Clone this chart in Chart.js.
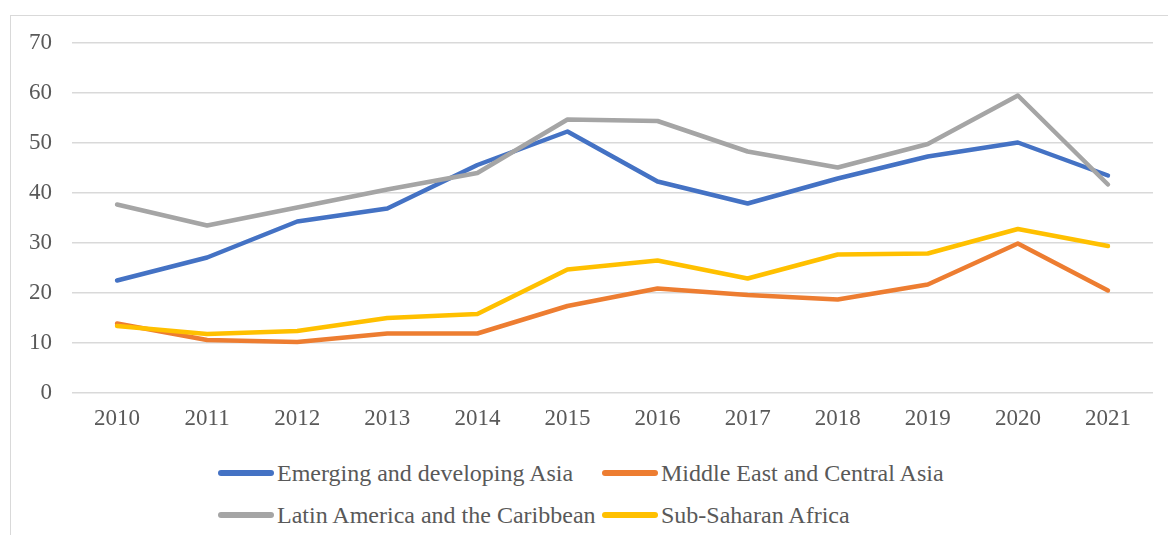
<!DOCTYPE html>
<html>
<head>
<meta charset="utf-8">
<script src="https://cdn.jsdelivr.net/npm/chart.js@4/dist/chart.umd.min.js"></script>
<style>
  html, body { margin: 0; padding: 0; background: #fff; }
  body { width: 1168px; height: 535px; overflow: hidden; position: relative; }
  #frame {
    position: absolute; left: 10px; top: 15px;
    width: 1200px; height: 600px;
    border-left: 1px solid #d9d9d9; border-top: 1px solid #d9d9d9;
  }
  #wrap { position: absolute; left: 0; top: 0; width: 1168px; height: 440px; }
  #legend {
    position: absolute; left: 0; top: 450px; width: 1168px;
    font-family: "Liberation Serif", "Times New Roman", serif;
    font-size: 24px; color: #595959;
  }
  .item { position: absolute; height: 26px; line-height: 26px; white-space: nowrap; }
  .item span.sw {
    position: absolute; left: 0; top: 10px; width: 56px; height: 5.5px;
    border-radius: 3px;
  }
  .item span.tx { position: absolute; left: 59px; top: 0; }
</style>
</head>
<body>
<div id="frame"></div>
<div id="wrap"><canvas id="myChart"></canvas></div>
<div id="legend"></div>
<script>
// data
const years = ['2010', '2011', '2012', '2013', '2014', '2015', '2016', '2017', '2018', '2019', '2020', '2021'];
const asia = [22.5, 27.1, 34.3, 36.9, 45.6, 52.3, 42.3, 37.9, 42.9, 47.3, 50.1, 43.5];
const midEast = [13.9, 10.6, 10.2, 11.9, 11.9, 17.4, 20.9, 19.6, 18.7, 21.7, 29.9, 20.5];
const latAm = [37.7, 33.5, 37.1, 40.7, 44.0, 54.7, 54.4, 48.3, 45.1, 49.8, 59.5, 41.7];
const ssa = [13.4, 11.8, 12.4, 15.0, 15.8, 24.7, 26.5, 22.9, 27.7, 27.9, 32.8, 29.4];

const seriesNames = ['Emerging and developing Asia', 'Middle East and Central Asia', 'Latin America and the Caribbean', 'Sub-Saharan Africa'];
const colors = ['#4472C4', '#ED7D31', '#A5A5A5', '#FFC000'];

const font = { family: '"Liberation Serif", "Times New Roman", serif', size: 23 };

function line(i, values) {
    return {
        label: seriesNames[i],
        data: values,
        borderColor: colors[i],
        backgroundColor: colors[i],
        borderWidth: 4.5,
        borderCapStyle: 'round',
        borderJoinStyle: 'round',
        pointRadius: 0,
        tension: 0,
        order: 4 - i
    };
}

const data = {
    labels: years,
    datasets: [line(0, asia), line(1, midEast), line(2, latAm), line(3, ssa)]
};

// html legend, laid out in two columns like the original
const htmlLegend = {
    id: 'htmlLegend',
    afterUpdate(chart) {
        const box = document.getElementById('legend');
        box.innerHTML = '';
        const colX = [218, 602];
        const rowY = [10, 52];
        chart.data.datasets.forEach((ds, i) => {
            const item = document.createElement('div');
            item.className = 'item';
            item.style.left = colX[i % 2] + 'px';
            item.style.top = rowY[Math.floor(i / 2)] + 'px';
            const sw = document.createElement('span');
            sw.className = 'sw';
            sw.style.background = ds.borderColor;
            const tx = document.createElement('span');
            tx.className = 'tx';
            tx.textContent = ds.label;
            item.appendChild(sw);
            item.appendChild(tx);
            box.appendChild(item);
        });
    }
};

// config
const config = {
    type: 'line',
    data,
    options: {
        responsive: false,
        animation: false,
        maintainAspectRatio: false,
        layout: { padding: { top: 43, right: 15, left: 0, bottom: 0 } },
        plugins: {
            legend: { display: false },
            tooltip: { enabled: false }
        },
        scales: {
            x: {
                offset: true,
                grid: { display: false, drawTicks: false },
                border: { display: false },
                ticks: { font, color: '#595959', padding: 12, maxRotation: 0 },
                afterFit(scale) { scale.height = 47; }
            },
            y: {
                min: 0,
                max: 70,
                grid: { color: '#d9d9d9', lineWidth: 1.5, drawTicks: false },
                border: { display: false },
                ticks: { stepSize: 10, font, color: '#595959', padding: 20 },
                afterFit(scale) { scale.width = 72; }
            }
        }
    },
    plugins: [htmlLegend]
};

// render
const canvas = document.getElementById('myChart');
canvas.width = 1168;
canvas.height = 440;
const myChart = new Chart(canvas, config);
</script>
</body>
</html>
